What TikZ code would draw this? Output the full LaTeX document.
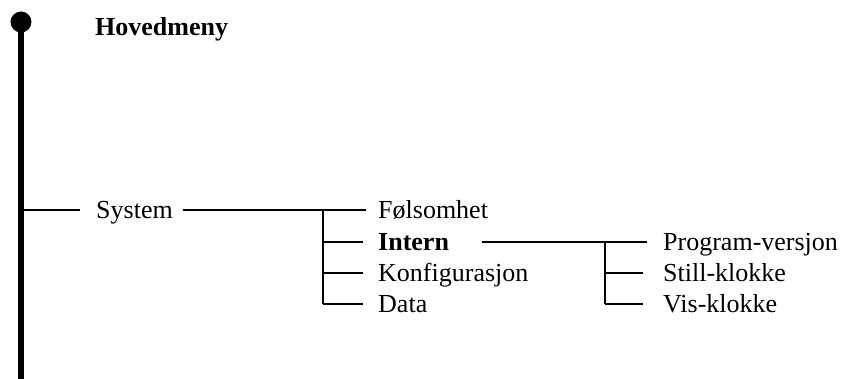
\documentclass[tikz,border=0pt]{standalone}
\usepackage{fontspec}
\setmainfont{Liberation Serif}
\begin{document}
\begin{tikzpicture}[x=1pt,y=-1pt,
  lbl/.style={anchor=west, inner sep=0pt, text height=17.4pt, text depth=0pt, font=\fontsize{26}{30}\selectfont},
  blbl/.style={lbl, font=\fontsize{26}{30}\selectfont\bfseries},
  br/.style={line width=2pt},
  mainline/.style={line width=5.5pt}]
\useasboundingbox (0,0) rectangle (842,379);
% main stem
\coordinate (top) at (21,22);
\coordinate (bottom) at (21,379);
\draw[mainline] (top) -- (bottom);
\fill (top) circle (10.5);
% texts
\node[blbl] (hoved) at (95,27) {Hovedmeny};
\node[lbl] (system) at (96,210) {System};
\node[lbl] (fols) at (378,210) {Følsomhet};
\node[blbl] (intern) at (378,241.5) {Intern};
\node[lbl] (konf) at (378,272.5) {Konfigurasjon};
\node[lbl] (data) at (378,304) {Data};
\node[lbl] (prog) at (663,241.5) {Program-versjon};
\node[lbl] (still) at (663,272.5) {Still-klokke};
\node[lbl] (vis) at (663,304) {Vis-klokke};
% junction coordinates
\coordinate (m1) at (21,210);
\coordinate (v1) at (323,210);
\coordinate (v2) at (605,241.5);
% connectors level 1
\draw[br] (m1) -- ([xshift=-16pt]system.west);
\draw[br] ([xshift=10pt]system.east) -- ([xshift=-12pt]fols.west);
\draw[br] (v1) -- (v1 |- data.west);
\draw[br] (v1 |- intern.west) -- ([xshift=-15pt]intern.west);
\draw[br] (v1 |- konf.west) -- ([xshift=-15pt]konf.west);
\draw[br] (v1 |- data.west) -- ([xshift=-15pt]data.west);
% connectors level 2
\draw[br] ([xshift=33pt]intern.east) -- ([xshift=-16pt]prog.west);
\draw[br] (v2) -- (v2 |- vis.west);
\draw[br] (v2 |- still.west) -- ([xshift=-20pt]still.west);
\draw[br] (v2 |- vis.west) -- ([xshift=-20pt]vis.west);
\end{tikzpicture}
\end{document}
